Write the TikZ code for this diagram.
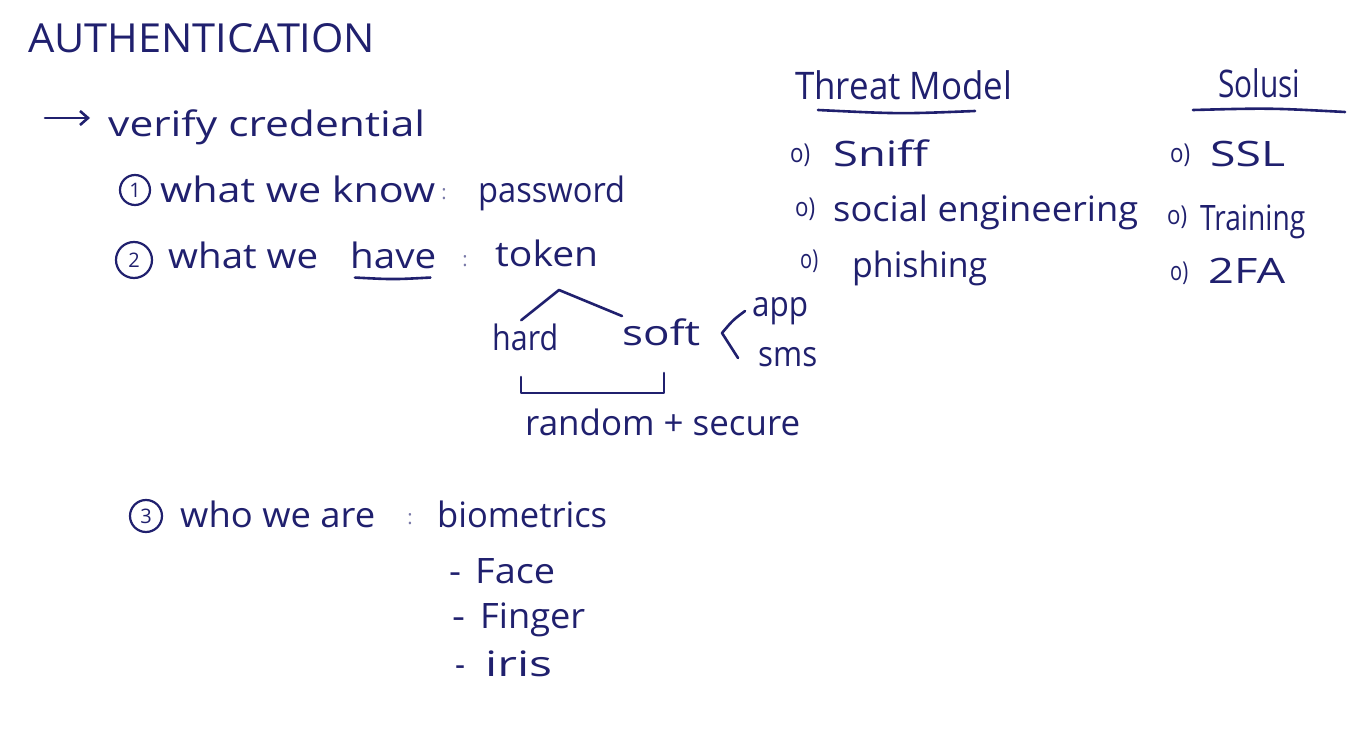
\documentclass[tikz,border=0pt]{standalone}
\usepackage{fontspec}
\usepackage{graphicx}
\setmainfont{Open Sans}
\usetikzlibrary{arrows.meta}
\definecolor{ink}{RGB}{32,32,110}
\newcommand\hw[2]{\resizebox{#1pt}{\height}{#2}}
\begin{document}
\begin{tikzpicture}[x=1pt,y=-1pt,
  every node/.style={inner sep=0pt,text=ink},
  txt/.style={anchor=base west,font=\fontsize{35}{35}\selectfont},
  big/.style={anchor=base west,font=\fontsize{40}{40}\selectfont},
  small/.style={anchor=base west,font=\fontsize{26}{26}\selectfont},
  dots/.style={anchor=base,font=\fontsize{20}{20}\selectfont,text=ink!60},
  circ/.style={circle,draw=ink,line width=2.2pt,minimum size=30pt,font=\fontsize{20}{20}\selectfont},
  pen/.style={draw=ink,line width=2.6pt,line cap=round,line join=round}]
\useasboundingbox[fill=white] (0,0) rectangle (1362,746);

% title
\node[big] (auth) at (28,53) {\hw{347}{AUTHENTICATION}};

% verify credential
\coordinate (arrS) at (45,118);
\coordinate (arrE) at (90,118);
\draw[pen,-{Straight Barb[length=8pt,width=14pt]}] (arrS) -- (arrE);
\node[txt] (verify) at (108,137) {\hw{317}{verify credential}};

% 1
\node[circ] (c1) at (135,190) {1};
\node[txt] (know) at (160,203) {\hw{275}{what we know}};
\node[dots] (col1) at (444,200) {:};
\node[txt] (pwd) at (478,203) {\hw{147}{password}};

% 2
\node[circ,minimum size=36pt] (c2) at (134,260) {2};
\node[txt] (whatwe) at (168,268) {\hw{150}{what we}};
\node[txt] (have) at (350,268) {\hw{86}{have}};
\draw[pen] ([xshift=5pt,yshift=-9pt]have.south west) .. controls ([yshift=-11pt]have.south) .. ([xshift=-6pt,yshift=-9pt]have.south east);
\node[dots] (col2) at (465,266) {:};
\node[txt] (token) at (495,266) {\hw{103}{token}};

% tree
\coordinate (apex) at (559,290);
\node[txt] (hard) at (492,350) {\hw{66}{hard}};
\node[txt] (soft) at (622,345) {\hw{78}{soft}};
\draw[pen] ([xshift=-4pt,yshift=3pt]hard.north) -- (apex) -- ([yshift=2pt]soft.north west);
\node[txt] (app) at (752,316) {\hw{56}{app}};
\node[txt] (sms) at (758,366) {\hw{59}{sms}};
\draw[pen] (745,311) .. controls (733,320) .. (722,333) .. controls (730,345) .. (738,358);
\draw[pen] (521,377) -- (521,393) -- (664,393) -- (664,373);
\node[txt] (rand) at (525,435) {\hw{275}{random + secure}};

% 3
\node[circ,minimum size=32pt] (c3) at (146,516) {3};
\node[txt] (who) at (180,527) {\hw{195}{who we are}};
\node[dots] (col3) at (410,524) {:};
\node[txt] (bio) at (437,527) {\hw{170}{biometrics}};
\node[txt] (d1) at (449,583) {\hw{12}{-}};
\node[txt] (face) at (475,583) {\hw{80}{Face}};
\node[txt] (d2) at (452,628) {\hw{13}{-}};
\node[txt] (finger) at (480,628) {\hw{105}{Finger}};
\node[txt] (d3) at (455,676) {\hw{10}{-}};
\node[txt] (iris) at (485,676) {\hw{67}{iris}};

% threat model
\node[txt,font=\fontsize{38}{38}\selectfont] (threat) at (795,100) {\hw{217}{Threat Model}};
\draw[pen] (818,110) .. controls (900,114) .. (975,111);
\node[small] (b1) at (790,163) {\hw{20}{o)}};
\node[txt] (sniff) at (833,167) {\hw{95}{Sniff}};
\node[small] (b2) at (795,216) {\hw{20}{o)}};
\node[txt] (social) at (833,222) {\hw{305}{social engineering}};
\node[small] (b3) at (800,268) {\hw{18}{o)}};
\node[txt] (phish) at (852,277) {\hw{135}{phishing}};

% solusi
\node[txt,font=\fontsize{38}{38}\selectfont] (sol) at (1218,98) {\hw{82}{Solusi}};
\draw[pen] (1193,110) .. controls (1270,108) .. (1345,112);
\node[small] (s1) at (1170,163) {\hw{20}{o)}};
\node[txt] (ssl) at (1210,167) {\hw{75}{SSL}};
\node[small] (s2) at (1167,225) {\hw{20}{o)}};
\node[txt] (train) at (1200,230) {\hw{105}{Training}};
\node[small] (s3) at (1170,280) {\hw{18}{o)}};
\node[txt] (tfa) at (1208,283) {\hw{77}{2FA}};
\end{tikzpicture}
\end{document}
